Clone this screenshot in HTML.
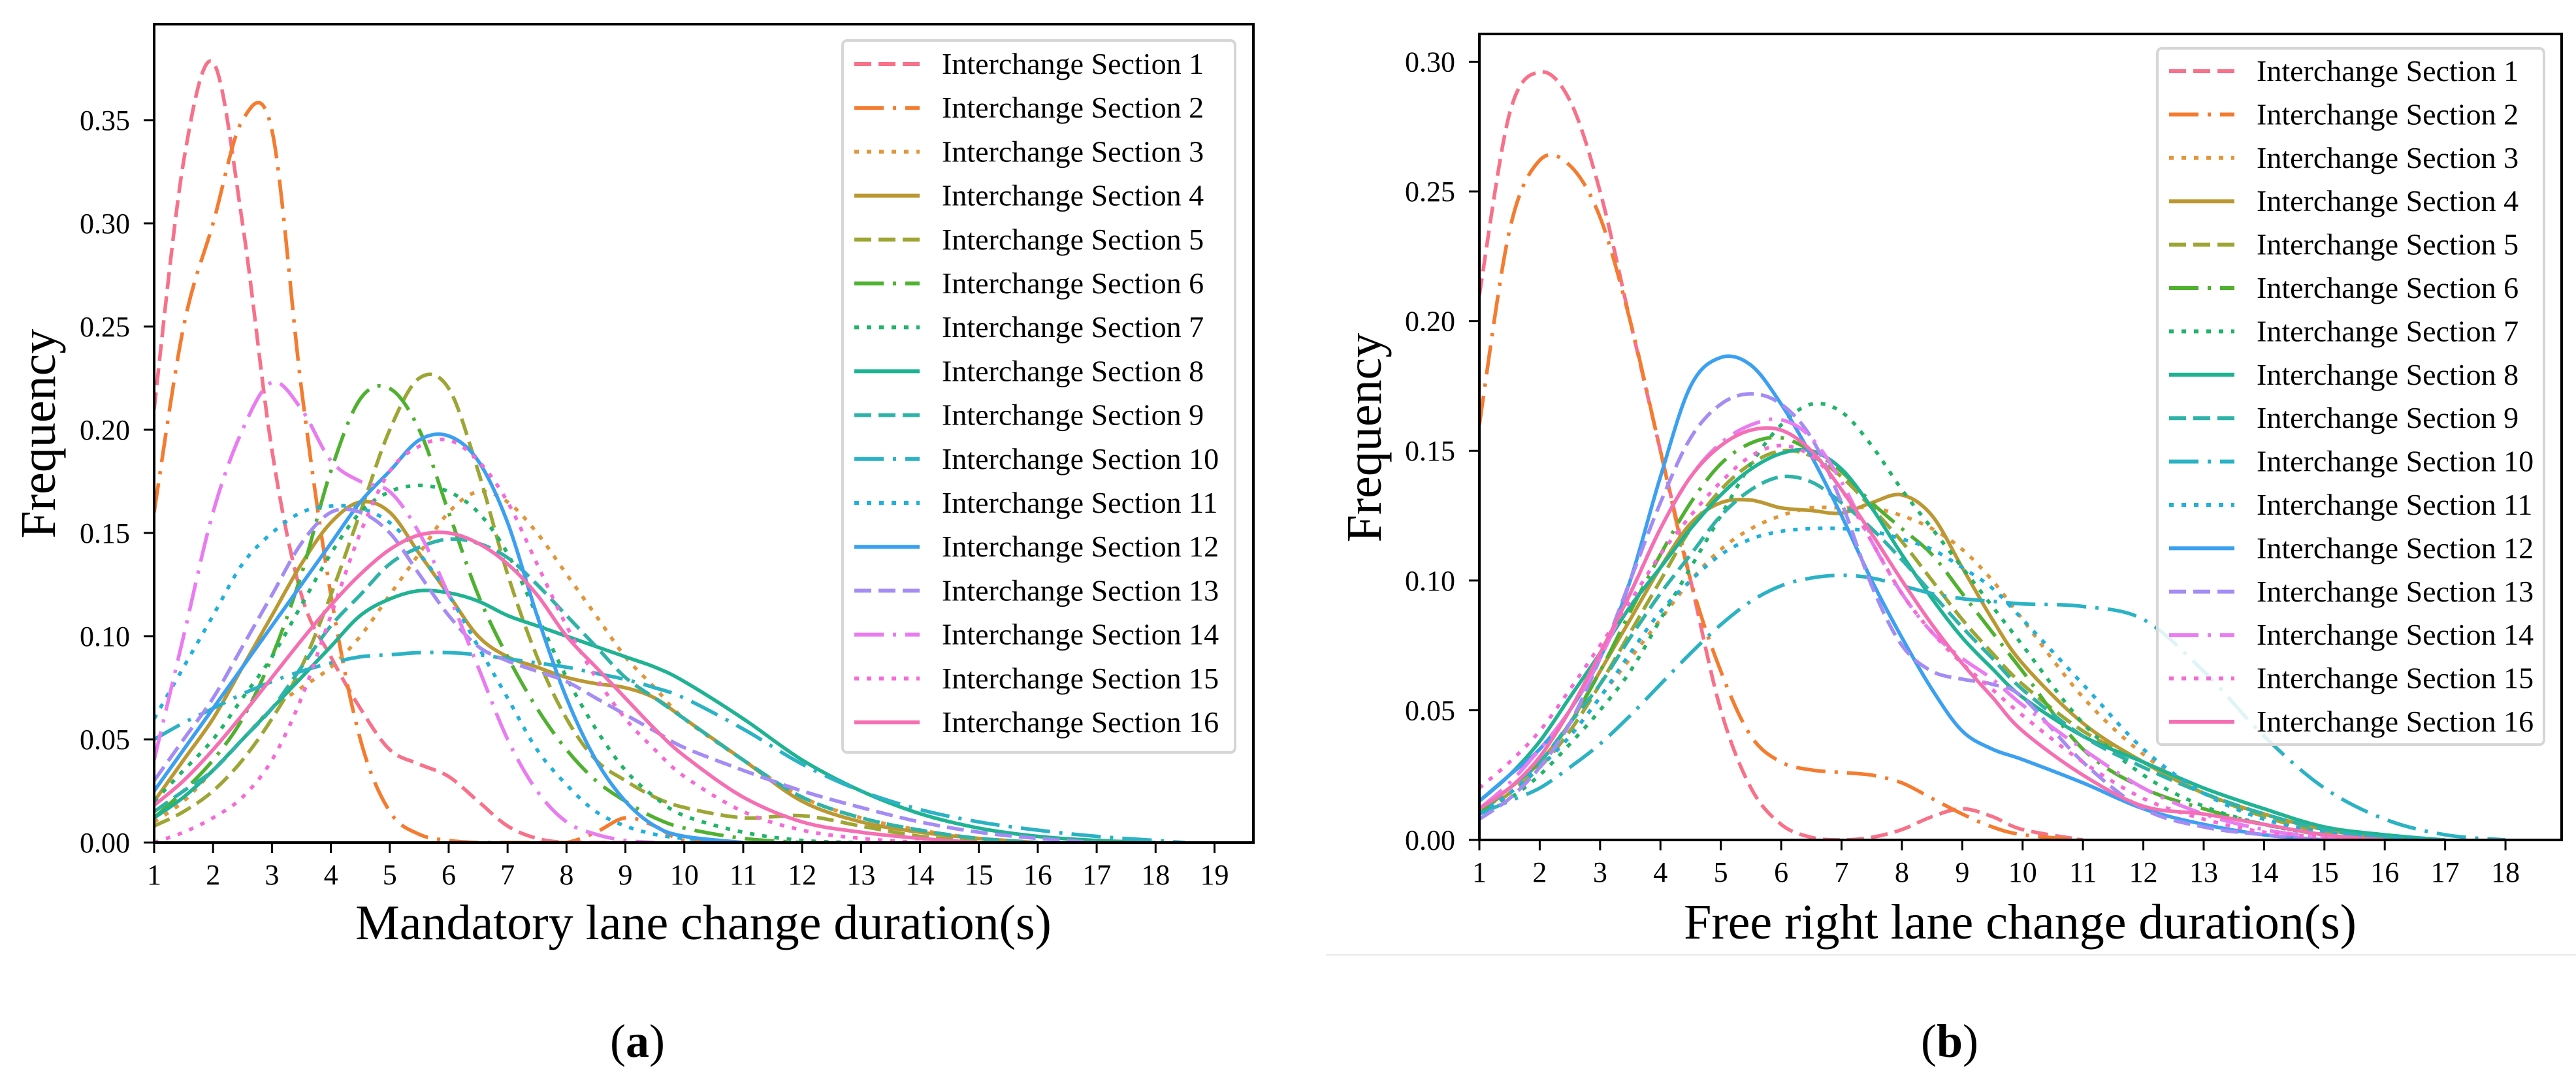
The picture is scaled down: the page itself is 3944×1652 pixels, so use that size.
<!DOCTYPE html>
<html><head><meta charset="utf-8"><style>
html,body{margin:0;padding:0;background:#fff;}
svg{display:block;font-family:"Liberation Serif","DejaVu Serif",serif;}
</style></head><body>
<svg id="fig" width="3944" height="1652" viewBox="0 0 3944 1652" xmlns="http://www.w3.org/2000/svg">
<g id="chartA"></g>
<g id="chartB"></g>
<line x1="2030" y1="1462" x2="3944" y2="1462" stroke="#ececec" stroke-width="3"/>
<text x="976" y="1618" font-size="72" text-anchor="middle">(<tspan font-weight="bold">a</tspan>)</text>
<text x="2985" y="1618" font-size="72" text-anchor="middle">(<tspan font-weight="bold">b</tspan>)</text>
</svg>
<script>
const seriesNames = ["Interchange Section 1","Interchange Section 2","Interchange Section 3","Interchange Section 4","Interchange Section 5","Interchange Section 6","Interchange Section 7","Interchange Section 8","Interchange Section 9","Interchange Section 10","Interchange Section 11","Interchange Section 12","Interchange Section 13","Interchange Section 14","Interchange Section 15","Interchange Section 16"];
const xGridA = [1,1.5,2,2.5,3,3.5,4,4.5,5,5.5,6,6.5,7,7.5,8,8.5,9,9.5,10,11,12,13,14,15,16,17,18,18.5];
const xGridB = [1,1.5,2,2.5,3,3.5,4,4.5,5,5.5,6,6.5,7,7.5,8,8.5,9,9.5,10,11,12,13,14,15,16,17,18];
const xTicksA = [1,2,3,4,5,6,7,8,9,10,11,12,13,14,15,16,17,18,19];
const xTicksB = [1,2,3,4,5,6,7,8,9,10,11,12,13,14,15,16,17,18];
const yTicksA = [0,0.05,0.10,0.15,0.20,0.25,0.30,0.35];
const yTicksB = [0,0.05,0.10,0.15,0.20,0.25,0.30];

const a1 = [0.21,0.33,0.378,0.30,0.19,0.12,0.09,0.065,0.045,0.038,0.032,0.02,0.008,0.002,0,0,0];
const a2 = [0.16,0.25,0.30,0.35,0.345,0.22,0.12,0.05,0.015,0.004,0.001,0,0,0,0,0.005,0.012,0.008,0.001,0];
const a3 = [0.01,0.02,0.035,0.05,0.065,0.075,0.085,0.10,0.12,0.14,0.16,0.17,0.165,0.15,0.13,0.11,0.09,0.075,0.06,0.04,0.022,0.012,0.006,0.002,0];
const a4 = [0.02,0.04,0.06,0.085,0.11,0.135,0.155,0.165,0.16,0.14,0.12,0.10,0.09,0.085,0.08,0.077,0.075,0.07,0.06,0.04,0.02,0.01,0.005,0.002,0];
const a5 = [0.008,0.015,0.025,0.04,0.06,0.085,0.12,0.16,0.20,0.225,0.22,0.18,0.13,0.09,0.06,0.04,0.03,0.022,0.017,0.012,0.013,0.008,0.003,0.001,0];
const a6 = [0.012,0.025,0.04,0.06,0.09,0.13,0.18,0.215,0.22,0.20,0.16,0.12,0.09,0.065,0.045,0.03,0.02,0.012,0.007,0.002,0];
const a7 = [0.02,0.035,0.05,0.07,0.09,0.115,0.14,0.16,0.17,0.173,0.17,0.16,0.14,0.11,0.08,0.055,0.035,0.022,0.013,0.005,0.001,0];
const a8 = [0.012,0.022,0.035,0.05,0.065,0.08,0.095,0.11,0.118,0.122,0.121,0.117,0.11,0.105,0.10,0.095,0.09,0.085,0.078,0.06,0.04,0.025,0.014,0.007,0.003,0.001,0];
const a9 = [0.015,0.025,0.035,0.05,0.065,0.085,0.105,0.12,0.135,0.143,0.147,0.145,0.138,0.125,0.11,0.095,0.08,0.07,0.06,0.04,0.022,0.012,0.006,0.002,0];
const a10 = [0.05,0.058,0.065,0.072,0.078,0.083,0.087,0.09,0.091,0.092,0.092,0.091,0.089,0.087,0.085,0.082,0.079,0.075,0.07,0.055,0.038,0.025,0.016,0.01,0.006,0.003,0.001,0];
const a11 = [0.06,0.085,0.11,0.135,0.15,0.16,0.163,0.162,0.155,0.14,0.12,0.095,0.07,0.045,0.028,0.015,0.008,0.004,0.002,0];
const a12 = [0.025,0.045,0.065,0.085,0.105,0.125,0.145,0.165,0.18,0.195,0.197,0.185,0.155,0.11,0.07,0.04,0.02,0.008,0.003,0];
const a13 = [0.03,0.05,0.07,0.095,0.12,0.145,0.16,0.16,0.15,0.13,0.11,0.095,0.088,0.083,0.078,0.07,0.062,0.054,0.046,0.035,0.025,0.017,0.01,0.005,0.002,0];
const a14 = [0.04,0.10,0.16,0.20,0.223,0.21,0.185,0.175,0.17,0.15,0.12,0.085,0.05,0.025,0.01,0.004,0.001,0];
const a15 = [0.0,0.005,0.012,0.022,0.04,0.07,0.11,0.15,0.18,0.192,0.195,0.185,0.165,0.135,0.105,0.08,0.06,0.045,0.032,0.015,0.006,0.002,0];
const a16 = [0.018,0.03,0.045,0.062,0.08,0.098,0.115,0.13,0.142,0.149,0.15,0.145,0.135,0.12,0.10,0.085,0.07,0.055,0.042,0.022,0.01,0.005,0.002,0];

const b1 = [0.21,0.28,0.296,0.285,0.25,0.20,0.15,0.10,0.05,0.02,0.006,0.001,0,0.001,0.004,0.009,0.012,0.009,0.004,0];
const b2 = [0.16,0.235,0.262,0.26,0.24,0.20,0.15,0.10,0.065,0.04,0.03,0.027,0.026,0.025,0.022,0.016,0.01,0.005,0.002,0];
const b3 = [0.01,0.018,0.028,0.04,0.055,0.07,0.085,0.10,0.112,0.12,0.125,0.128,0.128,0.128,0.125,0.12,0.112,0.10,0.085,0.055,0.033,0.018,0.008,0.003,0.001,0];
const b4 = [0.012,0.02,0.03,0.045,0.065,0.085,0.105,0.122,0.13,0.131,0.128,0.127,0.126,0.13,0.133,0.125,0.105,0.085,0.068,0.045,0.03,0.018,0.01,0.004,0.001,0];
const b5 = [0.01,0.018,0.028,0.042,0.06,0.08,0.10,0.12,0.135,0.145,0.15,0.148,0.14,0.128,0.115,0.10,0.085,0.072,0.06,0.042,0.03,0.018,0.009,0.003,0.001,0];
const b6 = [0.01,0.02,0.03,0.045,0.065,0.088,0.11,0.13,0.145,0.153,0.155,0.15,0.142,0.13,0.12,0.11,0.095,0.08,0.065,0.035,0.02,0.012,0.006,0.002,0];
const b7 = [0.01,0.016,0.025,0.037,0.05,0.065,0.085,0.105,0.125,0.145,0.16,0.168,0.165,0.152,0.135,0.12,0.105,0.09,0.075,0.045,0.025,0.013,0.006,0.002,0];
const b8 = [0.015,0.025,0.038,0.055,0.072,0.09,0.105,0.12,0.133,0.143,0.149,0.15,0.143,0.128,0.11,0.093,0.078,0.066,0.055,0.04,0.03,0.02,0.012,0.005,0.002,0];
const b9 = [0.012,0.02,0.03,0.045,0.06,0.078,0.095,0.11,0.125,0.135,0.14,0.138,0.13,0.12,0.108,0.095,0.082,0.07,0.058,0.04,0.028,0.018,0.01,0.004,0.001,0];
const b10 = [0.01,0.015,0.02,0.028,0.037,0.048,0.06,0.072,0.083,0.092,0.098,0.101,0.102,0.101,0.098,0.095,0.093,0.092,0.091,0.09,0.085,0.065,0.04,0.02,0.008,0.002,0];
const b11 = [0.01,0.018,0.028,0.04,0.055,0.072,0.088,0.10,0.11,0.116,0.119,0.12,0.12,0.119,0.116,0.112,0.105,0.097,0.085,0.06,0.035,0.018,0.008,0.003,0.001,0];
const b12 = [0.015,0.025,0.035,0.05,0.07,0.10,0.14,0.175,0.186,0.183,0.168,0.148,0.125,0.10,0.078,0.058,0.042,0.035,0.031,0.022,0.012,0.006,0.002,0];
const b13 = [0.008,0.016,0.028,0.045,0.07,0.10,0.13,0.155,0.168,0.172,0.168,0.155,0.13,0.098,0.075,0.065,0.062,0.06,0.055,0.03,0.012,0.005,0.002,0];
const b14 = [0.012,0.022,0.035,0.05,0.07,0.095,0.12,0.14,0.153,0.16,0.162,0.155,0.138,0.115,0.095,0.08,0.07,0.062,0.052,0.035,0.02,0.01,0.004,0.001,0];
const b15 = [0.02,0.03,0.042,0.058,0.075,0.092,0.11,0.125,0.138,0.148,0.152,0.148,0.135,0.115,0.095,0.08,0.068,0.058,0.048,0.03,0.016,0.008,0.003,0.001,0];
const b16 = [0.012,0.02,0.032,0.05,0.072,0.095,0.12,0.14,0.152,0.158,0.158,0.15,0.135,0.118,0.10,0.083,0.068,0.055,0.042,0.025,0.013,0.01,0.006,0.002,0];

const seriesA = [a1,a2,a3,a4,a5,a6,a7,a8,a9,a10,a11,a12,a13,a14,a15,a16];
const seriesB = [b1,b2,b3,b4,b5,b6,b7,b8,b9,b10,b11,b12,b13,b14,b15,b16];

const colors = ["#f77189","#f47c30","#e0963a","#bb9832","#9da634","#50b131","#22b46a","#1fb393","#2fb3a8","#2bb2c4","#21b0dc","#3ca0f0","#a48cf4","#e87cf0","#f66ad8","#f56fb3"];
const dashes = ["26 11","45 14 5 14","7 12",""];
const NS = "http://www.w3.org/2000/svg";

function mk(tag, attrs, parent){
  const e = document.createElementNS(NS, tag);
  for (const k in attrs) e.setAttribute(k, attrs[k]);
  parent.appendChild(e);
  return e;
}

function drawChart(g, cfg){
  const sx = v => cfg.px0 + (v - cfg.xmin) / (cfg.xmax - cfg.xmin) * (cfg.px1 - cfg.px0);
  const sy = v => cfg.py0 - v / cfg.ymax * (cfg.py0 - cfg.py1);
  const clip = mk("clipPath", {id: cfg.id + "clip"}, g);
  mk("rect", {x: cfg.px0, y: cfg.py1, width: cfg.px1 - cfg.px0, height: cfg.py0 - cfg.py1}, clip);
  const plot = mk("g", {"clip-path": "url(#" + cfg.id + "clip)"}, g);
  cfg.series.forEach((arr, i) => {
    const pts = arr.map((v, j) => [sx(cfg.xs[j]), sy(v)]);
    let d = "M" + pts[0][0].toFixed(1) + "," + pts[0][1].toFixed(1);
    for (let j = 0; j < pts.length - 1; j++) {
      const p0 = pts[Math.max(0, j - 1)], p1 = pts[j], p2 = pts[j + 1], p3 = pts[Math.min(pts.length - 1, j + 2)];
      let c1y = p1[1] + (p2[1] - p0[1]) / 6, c2y = p2[1] - (p3[1] - p1[1]) / 6;
      c1y = Math.min(c1y, cfg.py0); c2y = Math.min(c2y, cfg.py0);
      d += " C" + (p1[0] + (p2[0] - p0[0]) / 6).toFixed(1) + "," + c1y.toFixed(1) + " " + (p2[0] - (p3[0] - p1[0]) / 6).toFixed(1) + "," + c2y.toFixed(1) + " " + p2[0].toFixed(1) + "," + p2[1].toFixed(1);
    }
    const path = mk("path", {d: d, fill: "none", stroke: colors[i], "stroke-width": 5.5, "stroke-dasharray": dashes[i % 4] || "none"}, plot);
    
    
  });
  cfg.xticks.forEach(t => {
    const x = sx(t);
    const tl = mk("line", {x1: x, y1: cfg.py0, x2: x, y2: cfg.py0 + 16, stroke: "#000", "stroke-width": 3}, g);
    
    
    const tx = mk("text", {x: x, y: cfg.py0 + 64, "font-size": 44, "text-anchor": "middle"}, g);
    tx.textContent = t;
    
    
  });
  cfg.yticks.forEach(t => {
    const y = sy(t);
    const tl = mk("line", {x1: cfg.px0 - 16, y1: y, x2: cfg.px0, y2: y, stroke: "#000", "stroke-width": 3}, g);
    
    
    const tx = mk("text", {x: cfg.px0 - 37, y: y + 15, "font-size": 44, "text-anchor": "end"}, g);
    tx.textContent = t.toFixed(2);
    
    
  });
  const frame = mk("rect", {x: cfg.px0, y: cfg.py1, width: cfg.px1 - cfg.px0, height: cfg.py0 - cfg.py1, fill: "none", stroke: "#000", "stroke-width": 4}, g);
  
  
  const lg = mk("g", {}, g);
  
  
  mk("rect", {x: cfg.lx0, y: cfg.ly0, width: cfg.lx1 - cfg.lx0, height: cfg.ly1 - cfg.ly0, rx: 7, fill: "#fff", "fill-opacity": 0.85, stroke: "#d6d6d6", "stroke-width": 4}, lg);
  seriesNames.forEach((n, i) => {
    const y = cfg.row0 + i * cfg.rowH;
    const ent = mk("g", {}, lg);
    
    
    mk("line", {x1: cfg.lx0 + 18, y1: y, x2: cfg.lx0 + 118, y2: y, stroke: colors[i], "stroke-width": 6, "stroke-dasharray": dashes[i % 4] || "none"}, ent);
    const tx = mk("text", {x: cfg.lx0 + 152, y: y + 15, "font-size": 46}, ent);
    tx.textContent = n;
  });
  const xl = mk("text", {x: cfg.xlx, y: cfg.xly, "font-size": 76, "text-anchor": "middle"}, g);
  xl.textContent = cfg.xlabel;
  
  
  const yl = mk("text", {x: 0, y: 0, "font-size": 76, "text-anchor": "middle", transform: "translate(" + cfg.ylx + "," + cfg.yly + ") rotate(-90)"}, g);
  yl.textContent = "Frequency";
  
  
}

drawChart(document.getElementById("chartA"), {
  id: "A", xs: xGridA, series: seriesA, xticks: xTicksA, yticks: yTicksA,
  xmin: 1, xmax: 19.66, ymax: 0.3965, px0: 236, px1: 1919, py0: 1290, py1: 37,
  lx0: 1290, lx1: 1891, ly0: 62, ly1: 1152, row0: 98, rowH: 67.2,
  xlabel: "Mandatory lane change duration(s)", xlx: 1077, xly: 1438, ylx: 84, yly: 664
});
drawChart(document.getElementById("chartB"), {
  id: "B", xs: xGridB, series: seriesB, xticks: xTicksB, yticks: yTicksB,
  xmin: 1, xmax: 18.93, ymax: 0.3107, px0: 2265, px1: 3922, py0: 1286, py1: 52,
  lx0: 3303, lx1: 3895, ly0: 74, ly1: 1140, row0: 109, rowH: 66.4,
  xlabel: "Free right lane change duration(s)", xlx: 3093, xly: 1437, ylx: 2114, yly: 670
});
</script>
</body></html>
